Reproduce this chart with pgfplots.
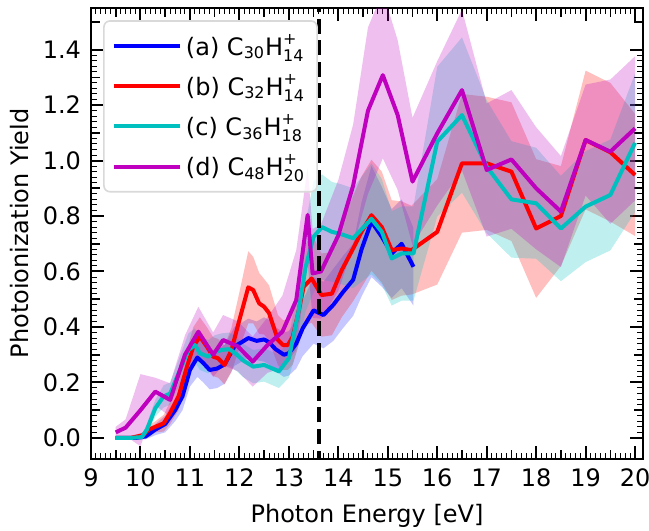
\documentclass[border=0pt]{standalone}
\usepackage{fontspec}
\setmainfont{DejaVu Sans}
\usepackage{amsmath}
\usepackage{pgfplots}
\usepackage{pgfplotstable}
\usepgfplotslibrary{fillbetween}
\pgfplotsset{compat=1.18}
\definecolor{mplcyan}{rgb}{0,0.75,0.75}
\definecolor{mplmag}{rgb}{0.75,0,0.75}

\pgfplotstableread{
E v e
9.5 0 0.005
9.7 0 0.005
9.9 0 0.005
10.1 0.005 0.01
10.2 0.017 0.015
10.3 0.03 0.02
10.5 0.05 0.03
10.7 0.1 0.04
10.85 0.15 0.05
11.0 0.245 0.06
11.15 0.29 0.07
11.27 0.27 0.07
11.4 0.245 0.07
11.55 0.25 0.07
11.7 0.265 0.07
11.9 0.33 0.07
12.0 0.34 0.07
12.18 0.36 0.07
12.35 0.35 0.07
12.5 0.355 0.08
12.6 0.345 0.08
12.73 0.32 0.08
12.9 0.3 0.08
13.0 0.305 0.08
13.15 0.34 0.09
13.28 0.395 0.1
13.5 0.46 0.12
13.7 0.443 0.12
13.9 0.48 0.13
14.1 0.527 0.13
14.3 0.57 0.13
14.47 0.68 0.17
14.67 0.78 0.2
14.88 0.725 0.18
15.08 0.665 0.16
15.28 0.70 0.16
15.52 0.617 0.14
}\dataA

\pgfplotstableread{
E v e
9.5 0 0.005
9.8 0 0.005
10.05 0.01 0.01
10.17 0.03 0.015
10.3 0.04 0.02
10.47 0.053 0.03
10.6 0.09 0.04
10.77 0.15 0.05
10.94 0.257 0.06
11.07 0.33 0.07
11.2 0.365 0.07
11.34 0.33 0.07
11.47 0.293 0.07
11.57 0.287 0.07
11.7 0.263 0.07
11.84 0.317 0.08
12.0 0.425 0.1
12.18 0.543 0.13
12.28 0.533 0.12
12.4 0.485 0.11
12.5 0.473 0.1
12.6 0.45 0.1
12.78 0.353 0.09
12.88 0.335 0.09
12.98 0.335 0.09
13.08 0.365 0.1
13.18 0.443 0.12
13.3 0.545 0.14
13.46 0.575 0.16
13.66 0.515 0.15
13.87 0.52 0.15
14.07 0.605 0.17
14.3 0.683 0.19
14.47 0.743 0.2
14.67 0.803 0.2
14.88 0.76 0.2
15.08 0.677 0.18
15.28 0.683 0.17
15.48 0.677 0.16
16.0 0.743 0.19
16.5 0.99 0.25
17.0 0.99 0.24
17.5 0.96 0.25
18.0 0.755 0.25
18.5 0.80 0.18
19.0 1.074 0.25
19.5 1.03 0.25
20.0 0.948 0.22
}\dataB

\pgfplotstableread{
E v e
9.5 0 0.005
9.8 0 0.005
10.03 0.003 0.01
10.13 0.03 0.02
10.3 0.107 0.03
10.47 0.15 0.04
10.6 0.16 0.04
10.8 0.245 0.05
10.97 0.317 0.06
11.1 0.335 0.06
11.2 0.305 0.06
11.37 0.293 0.06
11.5 0.31 0.06
11.64 0.317 0.06
11.8 0.32 0.06
11.95 0.30 0.06
12.07 0.28 0.06
12.28 0.257 0.06
12.5 0.263 0.06
12.8 0.24 0.06
13.0 0.287 0.07
13.2 0.46 0.12
13.34 0.617 0.16
13.5 0.725 0.2
13.67 0.76 0.19
13.87 0.743 0.18
14.05 0.735 0.18
14.3 0.72 0.18
14.67 0.79 0.2
14.88 0.743 0.19
15.08 0.647 0.17
15.28 0.665 0.17
15.52 0.665 0.17
16.0 1.068 0.27
16.5 1.164 0.28
17.0 0.978 0.24
17.5 0.86 0.21
18.0 0.846 0.2
18.5 0.755 0.19
19.0 0.834 0.2
19.5 0.876 0.2
20.0 1.064 0.25
}\dataC

\pgfplotstableread{
E v e
9.5 0.02 0.02
9.7 0.037 0.03
10.0 0.1 0.13
10.3 0.167 0.05
10.6 0.137 0.06
10.9 0.3 0.07
11.17 0.383 0.09
11.47 0.3 0.08
11.67 0.353 0.09
11.97 0.33 0.09
12.27 0.275 0.09
12.57 0.335 0.1
12.87 0.383 0.13
13.15 0.497 0.18
13.38 0.804 0.17
13.48 0.593 0.16
13.65 0.6 0.17
14.0 0.73 0.2
14.3 0.91 0.22
14.6 1.18 0.3
14.9 1.308 0.3
15.2 1.164 0.27
15.5 0.924 0.23
16.0 1.098 0.26
16.5 1.254 0.29
17.0 0.966 0.24
17.5 1.004 0.25
18.0 0.9 0.22
18.5 0.816 0.2
19.0 1.074 0.2
19.5 1.032 0.26
20.0 1.116 0.26
}\dataD

\begin{document}
\begin{tikzpicture}[font=\fontsize{12}{14}\selectfont]
\begin{axis}[
  scale only axis, width=276pt, height=225.5pt,
  xmin=9, xmax=20.16, ymin=-0.076, ymax=1.55,
  xtick={9,10,11,12,13,14,15,16,17,18,19,20},
  ytick={0,0.2,0.4,0.6,0.8,1.0,1.2,1.4},
  extra x ticks={9.5,10.5,11.5,12.5,13.5,14.5,15.5,16.5,17.5,18.5,19.5},
  extra y ticks={0.1,0.3,0.5,0.7,0.9,1.1,1.3,1.5},
  extra x tick labels={}, extra y tick labels={},
  extra tick style={major tick length=4.5pt, major tick style={line width=0.8pt, black}},
  minor x tick num=9, minor y tick num=9,
  tick align=inside,
  major tick length=6.5pt, minor tick length=3pt,
  major tick style={line width=1pt, black},
  minor tick style={line width=0.5pt, black},
  axis line style={line width=1.2pt},
  /pgf/number format/assume math mode=true,
  y tick label style={/pgf/number format/.cd, fixed, fixed zerofill, precision=1, /tikz/.cd, xshift=-1.5pt},
  x tick label style={yshift=-1.5pt},
  xlabel={Photon Energy [eV]},
  ylabel={Photoionization Yield},
  xlabel style={at={(axis description cs:0.5,-0.1264)}, anchor=center},
  ylabel style={at={(axis description cs:-0.1286,0.5)}, anchor=center},
  legend cell align=left,
  legend style={at={(axis description cs:0.022,0.973)}, anchor=north west,
    draw=black!15, line width=0.8pt, rounded corners=3pt, fill=white,
    fill opacity=0.8, text opacity=1, row sep=4pt, inner xsep=4pt, inner ysep=4.5pt},
  legend image code/.code={\draw[#1, line width=2pt] (0pt,0pt) -- (26pt,0pt); \path (0pt,0pt) -- (33pt,0pt);},
]
% bands
\addplot[name path=aU, draw=none, forget plot] table[x=E, y expr=\thisrow{v}+\thisrow{e}] {\dataA};
\addplot[name path=aL, draw=none, forget plot] table[x=E, y expr=\thisrow{v}-\thisrow{e}] {\dataA};
\addplot[fill=blue, fill opacity=0.22, draw=none, forget plot] fill between[of=aU and aL];
\addplot[name path=bU, draw=none, forget plot] table[x=E, y expr=\thisrow{v}+\thisrow{e}] {\dataB};
\addplot[name path=bL, draw=none, forget plot] table[x=E, y expr=\thisrow{v}-\thisrow{e}] {\dataB};
\addplot[fill=red, fill opacity=0.25, draw=none, forget plot] fill between[of=bU and bL];
\addplot[name path=cU, draw=none, forget plot] table[x=E, y expr=\thisrow{v}+\thisrow{e}] {\dataC};
\addplot[name path=cL, draw=none, forget plot] table[x=E, y expr=\thisrow{v}-\thisrow{e}] {\dataC};
\addplot[fill=mplcyan, fill opacity=0.25, draw=none, forget plot] fill between[of=cU and cL];
\addplot[name path=dU, draw=none, forget plot] table[x=E, y expr=\thisrow{v}+\thisrow{e}] {\dataD};
\addplot[name path=dL, draw=none, forget plot] table[x=E, y expr=\thisrow{v}-\thisrow{e}] {\dataD};
\addplot[fill=mplmag, fill opacity=0.25, draw=none, forget plot] fill between[of=dU and dL];
% lines
\addplot[blue, line width=2pt, line join=round] table[x=E, y=v] {\dataA};
\addlegendentry{(a) $\text{C}_{\text{30}}\text{H}_{\text{14}}^{\text{+}}$}
\addplot[red, line width=2pt, line join=round] table[x=E, y=v] {\dataB};
\addlegendentry{(b) $\text{C}_{\text{32}}\text{H}_{\text{14}}^{\text{+}}$}
\addplot[mplcyan, line width=2pt, line join=round] table[x=E, y=v] {\dataC};
\addlegendentry{(c) $\text{C}_{\text{36}}\text{H}_{\text{18}}^{\text{+}}$}
\addplot[mplmag, line width=2pt, line join=round] table[x=E, y=v] {\dataD};
\addlegendentry{(d) $\text{C}_{\text{48}}\text{H}_{\text{20}}^{\text{+}}$}
\addplot[black, line width=2pt, dash pattern=on 7.5pt off 3.3pt, forget plot] coordinates {(13.6,-0.1) (13.6,1.6)};
\end{axis}
\pgfresetboundingbox
\path[use as bounding box] ([shift={(-45.5pt,-36pt)}]current axis.south west) rectangle ([shift={(3pt,4pt)}]current axis.north east);
\end{tikzpicture}
\end{document}
